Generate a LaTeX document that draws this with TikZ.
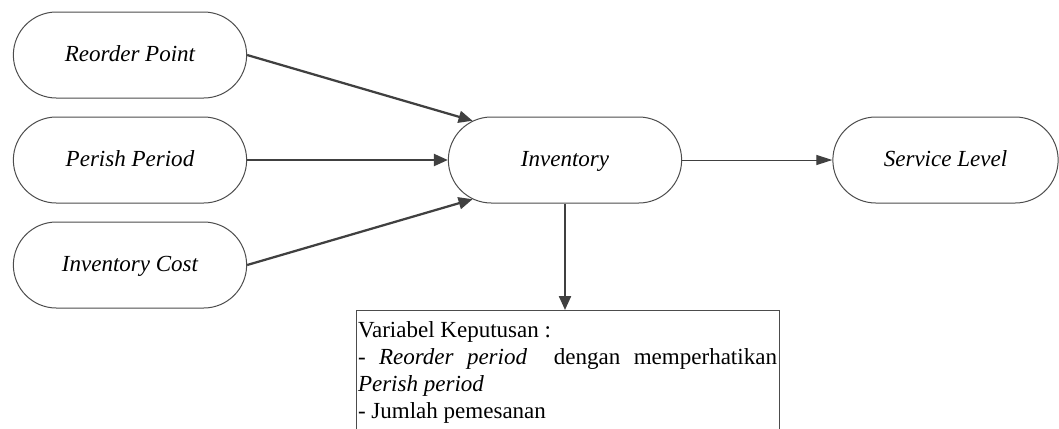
\documentclass[tikz,border=0pt]{standalone}
\usepackage{fontspec}
\setmainfont{Liberation Serif}
\usetikzlibrary{shapes,arrows.meta}

\tikzset{
  proses/.style={rounded rectangle, draw=black!70, line width=0.02cm, minimum width=4.9cm, minimum height=1.72cm, text height=0.7em, text depth=0pt, font=\fontsize{13.1pt}{15.4pt}\selectfont\itshape},
  panah/.style={draw=black!75, line width=0.045cm, -{Triangle[length=0.28cm,width=0.24cm]}},
  panahtipis/.style={draw=black!75, line width=0.02cm, -{Triangle[length=0.32cm,width=0.2cm]}}
}

\begin{document}
\begin{tikzpicture}
\useasboundingbox (0,0) rectangle (21.18,-8.56);

\node[proses] (rp) at (2.6,-1.1) {Reorder Point};%upper left
\node[proses] (pp) at (2.6,-3.2) {Perish Period};%middle left
\node[proses] (ic) at (2.6,-5.3) {Inventory Cost};%lower left
\node[proses] (inv) at (11.3,-3.2) {Inventory};%centre
\node[proses, minimum width=4.74cm] (sl) at (18.91,-3.2) {Service Level};%right

\node[draw=black!70, line width=0.02cm, anchor=north, text width=8.38cm, inner xsep=0.04cm, inner ysep=0.22cm, align=justify, font=\fontsize{13.1pt}{15.4pt}\selectfont] (kep) at (11.35,-6.2)
  {Variabel Keputusan :\\
   - \textit{Reorder period}\ \ dengan memperhatikan\linebreak
   \textit{Perish period}\\
   - Jumlah pemesanan};%box below

\draw[panah] (rp.east) -- (inv.157);
\draw[panah] (pp.east) -- (inv.west);
\draw[panah] (ic.east) -- (inv.203);
\draw[panahtipis] (inv.east) -- (sl.west);
\draw[panah] (inv.south) -- (inv.south |- kep.north);

\end{tikzpicture}
\end{document}
